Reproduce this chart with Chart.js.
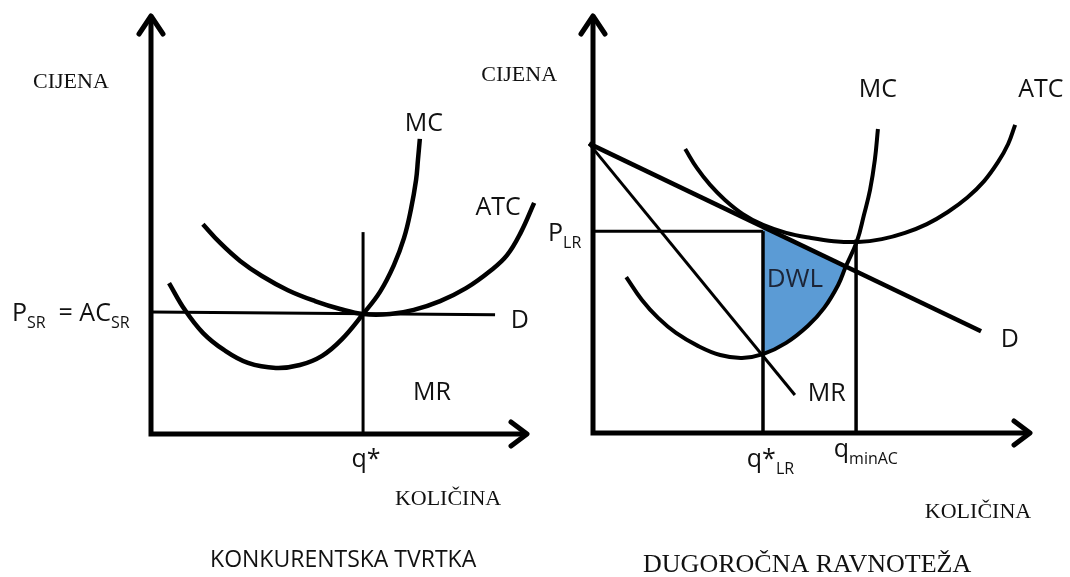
<!DOCTYPE html>
<html>
<head>
<meta charset="utf-8">
<script src="https://cdn.jsdelivr.net/npm/chart.js@4"></script>
<style>
  html, body { margin: 0; padding: 0; background: #fff; }
  #wrap { position: relative; width: 1070px; height: 577px; }
  canvas { position: absolute; top: 0; }
  #left { left: 0; }
  #right { left: 460px; }
</style>
</head>
<body>
<div id="wrap">
  <canvas id="left" width="540" height="577"></canvas>
  <canvas id="right" width="610" height="577"></canvas>
</div>
<script>
// quantity / price in 0-100 units on both panels

// left panel: competitive firm, short run
const srMC = [[4.8, 36.1], [9.0, 29.7], [13.8, 24.2], [19.4, 20.1], [25.8, 17.0], [33.2, 15.8],
              [39.6, 16.5], [45.5, 18.7], [50.8, 22.7], [56.4, 28.7], [60.9, 34.0], [64.6, 40.4],
              [67.3, 46.9], [69.1, 53.6], [70.5, 60.8], [71.0, 65.6], [71.5, 70.6]];
const srATC = [[13.8, 50.2], [18.4, 45.7], [23.7, 41.4], [29.5, 37.8], [36.4, 34.4], [43.6, 31.8],
               [50.3, 29.9], [56.4, 28.7], [63.6, 28.7], [69.9, 29.7], [76.9, 31.8], [83.8, 34.9],
               [90.2, 39.0], [94.7, 42.8], [98.4, 48.3], [101.9, 55.3]];
const srD = [[0, 29.2], [91.5, 28.5]];
const srQStar = [[56.4, 0], [56.4, 48.3]];

// right panel: long run equilibrium
const lrMC = [[7.6, 37.4], [11.2, 31.9], [14.9, 27.6], [19.0, 24.0], [24.0, 20.9], [29.1, 18.7],
              [34.1, 18.0], [38.9, 18.9], [44.2, 21.6], [49.2, 25.7], [52.9, 30.0], [56.1, 35.5],
              [57.8, 39.8], [60.4, 46.0], [62.0, 52.3], [63.4, 58.3], [64.5, 65.5], [65.2, 72.9]];
const lrATC = [[21.1, 68.1], [23.8, 63.5], [26.8, 59.5], [30.2, 55.9], [34.3, 52.5], [38.9, 49.9],
               [44.2, 48.0], [49.7, 46.8], [55.1, 46.0], [60.6, 45.8], [66.1, 46.5], [71.4, 48.0],
               [76.4, 50.1], [81.2, 53.0], [85.6, 56.4], [89.5, 60.4], [92.7, 65.0], [95.0, 69.3],
               [96.6, 73.9]];
const lrD = [[-0.9, 69.4], [88.8, 24.4]];
const lrMR = [[-0.9, 69.4], [46.2, 9.1]];
const lrPrice = [[0, 48.4], [38.9, 48.4]];
const lrQStar = [[38.9, 0], [38.9, 48.4]];
const lrQMin = [[60.2, 0], [60.2, 46.4]];
const dwlTop = [[38.9, 49.5], [57.8, 39.8]];
const dwlBottom = [[38.9, 18.9], [44.2, 21.6], [49.2, 25.7], [52.9, 30.0], [56.1, 35.5], [57.8, 39.8]];

const pts = arr => arr.map(p => ({x: p[0], y: p[1]}));

function line(data, width, extra) {
  return Object.assign({
    data: pts(data), showLine: true, borderColor: "#000", borderWidth: width,
    pointRadius: 0, tension: 0, clip: false, fill: false
  }, extra || {});
}
const curve = {tension: 0.4};

// axes with open arrow heads
const axesArrows = {
  id: "axesArrows",
  beforeDatasetsDraw(chart) {
    const {ctx, scales: {x, y}} = chart;
    const x0 = x.getPixelForValue(0), y0 = y.getPixelForValue(0);
    const xEnd = x.getPixelForValue(100), yEnd = y.getPixelForValue(100);
    ctx.save();
    ctx.strokeStyle = "#000";
    ctx.lineWidth = 5;
    ctx.lineJoin = "miter";
    ctx.beginPath();
    ctx.moveTo(x0, yEnd + 2);
    ctx.lineTo(x0, y0);
    ctx.lineTo(xEnd - 2, y0);
    ctx.stroke();
    ctx.lineJoin = "round";
    ctx.lineCap = "round";
    ctx.beginPath();
    ctx.moveTo(x0 - 12, yEnd + 18);
    ctx.lineTo(x0, yEnd);
    ctx.lineTo(x0 + 12, yEnd + 18);
    ctx.moveTo(xEnd - 16, y0 - 12);
    ctx.lineTo(xEnd, y0);
    ctx.lineTo(xEnd - 16, y0 + 12);
    ctx.stroke();
    ctx.restore();
  }
};

// text labels placed in data units, with subscripts
const textLabels = {
  id: "textLabels",
  afterDraw(chart, args, opts) {
    const {ctx, scales: {x, y}} = chart;
    opts.items.forEach(it => {
      const size = it.size, sub = Math.round(size * 0.64);
      const mainFont = size + "px " + it.family, subFont = sub + "px " + it.family;
      ctx.save();
      ctx.fillStyle = it.color || "#111";
      ctx.textAlign = "left";
      ctx.textBaseline = "alphabetic";
      const w = it.parts.map(p => { ctx.font = p.sub ? subFont : mainFont; return ctx.measureText(p.t).width; });
      const total = w.reduce((a, b) => a + b, 0);
      let px = x.getPixelForValue(it.x) - (it.align === "left" ? 0 : total / 2);
      const py = y.getPixelForValue(it.y);
      it.parts.forEach((p, i) => {
        ctx.font = p.sub ? subFont : mainFont;
        ctx.fillText(p.t, px, py + (p.sub ? sub * 0.45 : 0));
        px += w[i];
      });
      ctx.restore();
    });
  }
};

const SANS = "'Open Sans', 'DejaVu Sans', sans-serif";
const SERIF = "'Liberation Serif', 'DejaVu Serif', serif";
const T = (t, sub) => ({t, sub: !!sub});

function options(pad, items) {
  return {
    responsive: false, animation: false, devicePixelRatio: 1,
    layout: {padding: pad},
    plugins: {legend: {display: false}, tooltip: {enabled: false}, textLabels: {items}},
    scales: {
      x: {type: "linear", min: 0, max: 100, display: false},
      y: {type: "linear", min: 0, max: 100, display: false}
    }
  };
}

new Chart(document.getElementById("left"), {
  type: "scatter",
  data: {
    datasets: [
      line(srMC, 4.5, curve),
      line(srATC, 4.5, curve),
      line(srD, 3),
      line(srQStar, 3)
    ]
  },
  options: options({left: 151, right: 13, top: 16, bottom: 143}, [
    {parts: [T("CIJENA")], x: -21.3, y: 82.8, size: 22, family: SERIF},
    {parts: [T("MC")], x: 72.6, y: 72.5, size: 25, family: SANS},
    {parts: [T("ATC")], x: 92.3, y: 52.4, size: 25, family: SANS},
    {parts: [T("D")], x: 98.1, y: 25.4, size: 25, family: SANS},
    {parts: [T("MR")], x: 74.7, y: 8.1, size: 25, family: SANS},
    {parts: [T("q*")], x: 57.2, y: -7.9, size: 25, family: SANS},
    {parts: [T("P"), T("SR", 1), T("  = AC"), T("SR", 1)], x: -37, y: 27, size: 25, family: SANS, align: "left"},
    {parts: [T("KOLIČINA")], x: 79, y: -17, size: 22, family: SERIF},
    {parts: [T("KONKURENTSKA TVRTKA")], x: 51.1, y: -31.8, size: 23, family: SANS}
  ]),
  plugins: [axesArrows, textLabels]
});

new Chart(document.getElementById("right"), {
  type: "scatter",
  data: {
    datasets: [
      line(lrMC, 4, curve),
      line(lrATC, 4, curve),
      line(lrD, 4.5),
      line(lrMR, 3),
      line(lrPrice, 3),
      line(lrQStar, 3.5),
      line(lrQMin, 3.5),
      line(dwlTop, 1, {borderColor: "rgba(0,0,0,0)"}),
      line(dwlBottom, 1, Object.assign({borderColor: "rgba(0,0,0,0)", fill: "-1", backgroundColor: "#5b9bd5"}, curve))
    ]
  },
  options: options({left: 133, right: 40, top: 16, bottom: 144}, [
    {parts: [T("CIJENA")], x: -16.9, y: 84.4, size: 22, family: SERIF},
    {parts: [T("MC")], x: 65.2, y: 80.6, size: 25, family: SANS},
    {parts: [T("ATC")], x: 102.5, y: 80.6, size: 25, family: SANS},
    {parts: [T("P"), T("LR", 1)], x: -10.3, y: 46, size: 25, family: SANS, align: "left"},
    {parts: [T("DWL")], x: 46.2, y: 35, size: 26, family: SANS, color: "#1c2436"},
    {parts: [T("D")], x: 95.4, y: 20.6, size: 25, family: SANS},
    {parts: [T("MR")], x: 53.5, y: 7.7, size: 25, family: SANS},
    {parts: [T("q*"), T("LR", 1)], x: 35.2, y: -8.2, size: 25, family: SANS, align: "left"},
    {parts: [T("q"), T("minAC", 1)], x: 55.1, y: -5.8, size: 25, family: SANS, align: "left"},
    {parts: [T("KOLIČINA")], x: 88.1, y: -20.4, size: 22, family: SERIF},
    {parts: [T("DUGOROČNA RAVNOTEŽA")], x: 49, y: -33.3, size: 26, family: SERIF}
  ]),
  plugins: [axesArrows, textLabels]
});
</script>
</body>
</html>
